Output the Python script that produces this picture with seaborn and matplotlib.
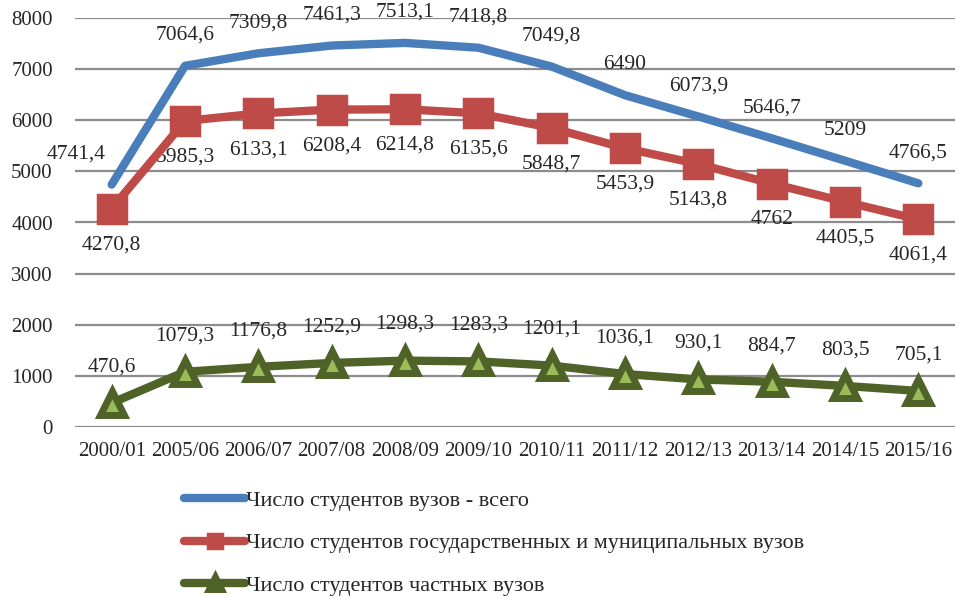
import matplotlib
matplotlib.use("Agg")
import matplotlib.pyplot as plt
import seaborn as sns
import pandas as pd

years = ["2000/01", "2005/06", "2006/07", "2007/08", "2008/09", "2009/10",
         "2010/11", "2011/12", "2012/13", "2013/14", "2014/15", "2015/16"]
total = [4741.4, 7064.6, 7309.8, 7461.3, 7513.1, 7418.8, 7049.8, 6490, 6073.9, 5646.7, 5209, 4766.5]
state = [4270.8, 5985.3, 6133.1, 6208.4, 6214.8, 6135.6, 5848.7, 5453.9, 5143.8, 4762, 4405.5, 4061.4]
private = [470.6, 1079.3, 1176.8, 1252.9, 1298.3, 1283.3, 1201.1, 1036.1, 930.1, 884.7, 803.5, 705.1]
names = ["Число студентов вузов - всего",
         "Число студентов государственных и муниципальных вузов",
         "Число студентов частных вузов"]
yticks = [0, 1000, 2000, 3000, 4000, 5000, 6000, 7000, 8000]

sns.set_style("white")
plt.rcParams['font.family'] = ['Liberation Serif', 'DejaVu Serif']

BLUE = "#4A7EBB"
RED = "#BE4B48"
GREEN = "#4F6228"
LGREEN = "#9BBB59"

fig = plt.figure(figsize=(9.57, 5.97), dpi=100)
ax = fig.add_axes([75/957, 1 - 427/597, (955 - 75)/957, (427 - 18)/597])

x = list(range(len(years)))
df = pd.DataFrame({"x": x, "total": total, "state": state, "private": private})

sns.lineplot(data=df, x="x", y="total", ax=ax, color=BLUE, lw=6,
             solid_capstyle="round", label=names[0], zorder=3)
sns.lineplot(data=df, x="x", y="state", ax=ax, color=RED, lw=6,
             marker="s", markersize=20, markeredgewidth=2.5, markeredgecolor=RED,
             markerfacecolor=RED, label=names[1], zorder=4)
sns.lineplot(data=df, x="x", y="private", ax=ax, color=GREEN, lw=6,
             marker="^", markersize=17, markeredgewidth=5, markeredgecolor=GREEN,
             markerfacecolor=LGREEN, label=names[2], zorder=4)

for ln in ax.lines:
    ln.set_solid_joinstyle("round")

fs_lab = 15.5
fs_tick = 15
for i, v in enumerate(total):
    dx = -4 if i == 0 else 0
    ha = "right" if i == 0 else "center"
    ax.annotate(f"{v:g}".replace(".", ","), (i, v), xytext=(dx, 22),
                textcoords="offset points", ha=ha, va="center", fontsize=fs_lab)
for i, v in enumerate(state):
    ax.annotate(f"{v:g}".replace(".", ","), (i, v), xytext=(0, -26),
                textcoords="offset points", ha="center", va="center", fontsize=fs_lab)
for i, v in enumerate(private):
    ax.annotate(f"{v:g}".replace(".", ","), (i, v), xytext=(0, 26),
                textcoords="offset points", ha="center", va="center", fontsize=fs_lab)

ax.set_xlim(-0.5, len(years) - 0.5)
ax.set_ylim(0, 8000)
ax.set_yticks(yticks)
ax.set_yticklabels([str(t) for t in yticks], fontsize=fs_tick)
ax.set_xticks(x)
ax.set_xticklabels(years, fontsize=fs_tick)
ax.tick_params(axis="y", length=0, pad=16)
ax.tick_params(axis="x", length=0, pad=11)
ax.grid(axis="y", color="#8C8C8C", lw=1.6)
ax.set_axisbelow(True)
for s in ax.spines.values():
    s.set_visible(False)
ax.set_xlabel("")
ax.set_ylabel("")

leg = ax.legend(loc="upper left", bbox_to_anchor=(184/957, 1 - 490/597),
                bbox_transform=fig.transFigure, frameon=False, fontsize=16,
                handlelength=2.75, handletextpad=0.05, labelspacing=1.0,
                markerscale=0.5, borderaxespad=0, borderpad=0)

fig.savefig("out.png", dpi=100)
